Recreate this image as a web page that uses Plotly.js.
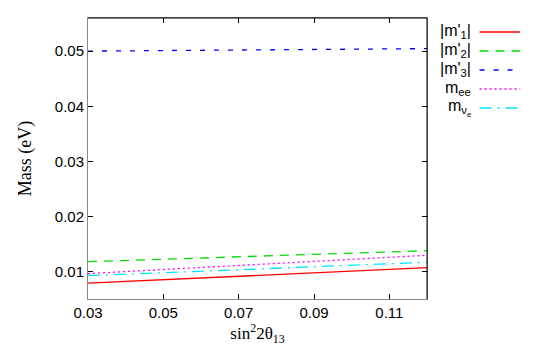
<!DOCTYPE html>
<html>
<head>
<meta charset="utf-8">
<script src="https://cdn.plot.ly/plotly-3.0.1.min.js"></script>
<style>body{margin:0;background:#fff}#myDiv{width:540px;height:346px}</style>
</head>
<body>
<div id="myDiv"></div>
<script>
var s2 = [0.03, 0.06, 0.09, 0.12],
    m1 = [0.00796, 0.00893, 0.00988, 0.01078],
    m2 = [0.01186, 0.01253, 0.01320, 0.01385],
    m3 = [0.05000, 0.05015, 0.05030, 0.05045],
    mee = [0.00970, 0.01080, 0.01192, 0.01302],
    mnue = [0.00933, 0.01013, 0.01094, 0.01175];

var names = ["|m'<sub>1</sub>|", "|m'<sub>2</sub>|", "|m'<sub>3</sub>|",
             "m<sub>ee</sub>", "m<sub>ν<sub>e</sub></sub>"],
    series = [m1, m2, m3, mee, mnue],
    colors = ['#ff0000', '#00dd00', '#0000ff', '#ff00ff', '#00e5ff'],
    dashes = ['solid', '9px,7px', '5px,9px', '2px,3px', '12px,6px,2px,6px'];

var data = [], shapes = [], annotations = [];
for (var i = 0; i < series.length; i++) {
  data.push({x: s2, y: series[i], type: 'scatter', mode: 'lines', name: names[i],
             line: {color: colors[i], width: 1.3, dash: dashes[i]}, showlegend: false});
  var ly = 1 - (32 + 19 * i - 18) / 281;
  shapes.push({type: 'line', xref: 'paper', yref: 'paper', x0: 1.155, x1: 1.275, y0: ly, y1: ly,
               line: {color: colors[i], width: 1.3, dash: dashes[i]}});
  annotations.push({xref: 'paper', yref: 'paper', x: 1.135, y: ly, text: names[i], showarrow: false,
                    xanchor: 'right', yanchor: 'middle', font: {size: 16, color: '#000'}});
}
// black top and right frame
shapes.push({type: 'line', xref: 'paper', yref: 'paper', x0: 0, x1: 1, y0: 1, y1: 1, line: {color: '#000', width: 1}});
shapes.push({type: 'line', xref: 'paper', yref: 'paper', x0: 1, x1: 1, y0: 0, y1: 1, line: {color: '#000', width: 1}});

var layout = {
  width: 540, height: 346,
  margin: {l: 88, r: 113, t: 18, b: 47},
  paper_bgcolor: '#fff', plot_bgcolor: '#fff',
  font: {family: 'Liberation Sans, Arial, sans-serif', size: 15, color: '#000'},
  xaxis: {range: [0.03, 0.12], tickvals: [0.03, 0.05, 0.07, 0.09, 0.11],
          ticktext: ['0.03', '0.05', '0.07', '0.09', '0.11'],
          ticks: 'inside', ticklen: 5, tickcolor: '#000', mirror: 'ticks',
          showline: true, linecolor: '#888', linewidth: 1, showgrid: false, zeroline: false,
          title: {text: 'sin<sup>2</sup>2θ<sub>13</sub>', standoff: 10,
                  font: {family: 'Liberation Serif, Times New Roman, serif', size: 17}}},
  yaxis: {range: [0.0051, 0.056], tickvals: [0.01, 0.02, 0.03, 0.04, 0.05],
          ticktext: ['0.01', '0.02', '0.03', '0.04', '0.05'],
          ticks: 'inside', ticklen: 5, tickcolor: '#000', mirror: 'ticks',
          showline: true, linecolor: '#888', linewidth: 1, showgrid: false, zeroline: false,
          title: {text: 'Mass (eV)', standoff: 18,
                  font: {family: 'Liberation Serif, Times New Roman, serif', size: 18}}},
  shapes: shapes,
  annotations: annotations,
  showlegend: false
};

Plotly.newPlot('myDiv', data, layout, {displayModeBar: false});
</script>
</body>
</html>
